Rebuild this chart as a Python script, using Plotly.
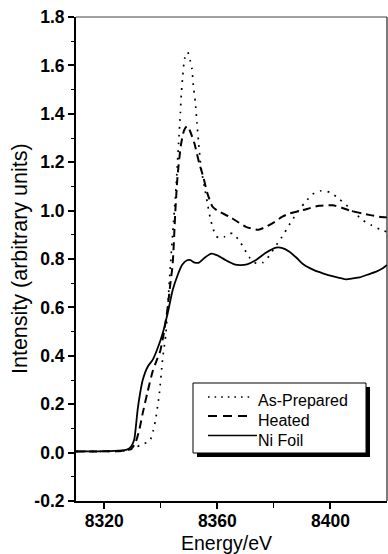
import plotly.graph_objects as go

# ---------------- data ----------------
ni_e = [8310, 8318, 8325, 8328, 8329.5, 8330.6, 8331.2, 8331.8, 8332.6, 8333.6, 8335.4,
        8337.1, 8338.5, 8340.6, 8342.5, 8344.2, 8346.0, 8347.5, 8349.3, 8350.5, 8352,
        8353.5, 8355.5, 8357.8, 8360, 8363, 8366, 8368, 8370.5, 8373.7, 8377, 8380.8,
        8383, 8385.5, 8388, 8390.5, 8394, 8397.3, 8401, 8405.5, 8408, 8410.3, 8413,
        8416.2, 8418.5, 8420]
ni_v = [0.005, 0.005, 0.008, 0.012, 0.025, 0.054, 0.11, 0.177, 0.24, 0.30, 0.356,
        0.383, 0.42, 0.49, 0.58, 0.672, 0.735, 0.775, 0.795, 0.795, 0.785,
        0.785, 0.805, 0.822, 0.815, 0.795, 0.778, 0.775, 0.778, 0.796, 0.825, 0.847,
        0.845, 0.83, 0.805, 0.777, 0.755, 0.741, 0.728, 0.716, 0.72, 0.724, 0.735,
        0.748, 0.762, 0.775]

heated_e = [8310, 8326, 8329.5, 8331, 8332.4, 8333.6, 8335.3, 8337.1, 8338.5, 8339.8,
            8341, 8342.2, 8343.4, 8344.2, 8345.1, 8345.9, 8347.1, 8348.2, 8349.3,
            8350.3, 8351.9, 8353.6, 8355, 8356.5, 8358.3, 8360, 8364.2, 8367, 8370.1,
            8374.5, 8377.5, 8380.5, 8383, 8385.5, 8390.2, 8396, 8400.8, 8404, 8407,
            8412, 8417.3, 8420]
heated_v = [0.005, 0.007, 0.015, 0.04, 0.095, 0.163, 0.25, 0.335, 0.38, 0.42,
            0.49, 0.58, 0.70, 0.78, 0.99, 1.14, 1.27, 1.33, 1.35,
            1.33, 1.277, 1.195, 1.14, 1.07, 1.016, 1.0, 0.975, 0.955, 0.933,
            0.921, 0.935, 0.955, 0.975, 0.988, 1.002, 1.02, 1.022, 1.012, 1.0,
            0.986, 0.975, 0.972]

asprep_e = [8310, 8328, 8331, 8333, 8336, 8337.3, 8338.2, 8339.5, 8340.6, 8341.8,
            8343.2, 8344.2, 8345.4, 8346.3, 8346.9, 8347.3, 8347.8, 8348.4, 8349.5,
            8350.4, 8351, 8351.5, 8352.2, 8352.8, 8353.3, 8354.2, 8355.4, 8356.4,
            8357.5, 8358.3, 8359.5, 8361, 8362.5, 8364, 8365.5, 8367.8, 8369.6,
            8371.3, 8373, 8374.5, 8376, 8377.5, 8379.3, 8381.3, 8383.3, 8385,
            8386.9, 8389, 8391.2, 8393.7, 8396.7, 8399.9, 8402.9, 8405.6, 8408.5,
            8411.4, 8414.4, 8417.6, 8420]
asprep_v = [0.005, 0.008, 0.02, 0.033, 0.047, 0.09, 0.14, 0.246, 0.383, 0.494,
            0.74, 0.906, 1.10, 1.28, 1.40, 1.49, 1.56, 1.628, 1.655,
            1.62, 1.586, 1.517, 1.449, 1.36, 1.29, 1.18, 1.10, 1.036,
            0.968, 0.933, 0.895, 0.885, 0.892, 0.905, 0.905, 0.875, 0.84,
            0.807, 0.787, 0.78, 0.785, 0.80, 0.83, 0.865, 0.899, 0.933,
            0.968, 1.005, 1.036, 1.068, 1.082, 1.075, 1.05, 1.023, 0.991,
            0.961, 0.94, 0.922, 0.912]

x_ticks = [8320, 8360, 8400]
x_ticktext = ["8320", "8360", "8400"]
x_minor = [8340, 8380]
y_ticks = [-0.2, 0.0, 0.2, 0.4, 0.6, 0.8, 1.0, 1.2, 1.4, 1.6, 1.8]
y_ticktext = ["-0.2", "0.0", "0.2", "0.4", "0.6", "0.8", "1.0", "1.2", "1.4", "1.6", "1.8"]
legend_labels = ["As-Prepared", "Heated", "Ni Foil"]

# ---------------- layout geometry ----------------
W, H = 388, 554
L, R, T, B = 76, 387, 17, 501


def px(xp):
    return (xp - L) / (R - L)


def py(yp):
    return (B - yp) / (B - T)


FONT = "Liberation Sans"
XBOLD = dict(family="Arial", size=17.5, color="black", weight=700)
YBOLD = dict(family="Arial", size=17.5, color="black", weight=700)
DOT = "1.8px,6px"
DASH = "8px,5px"

fig = go.Figure()
fig.add_trace(go.Scatter(x=asprep_e, y=asprep_v, mode="lines", name=legend_labels[0],
                         line=dict(color="black", width=1.7, dash=DOT, shape="spline", smoothing=0.6)))
fig.add_trace(go.Scatter(x=heated_e, y=heated_v, mode="lines", name=legend_labels[1],
                         line=dict(color="black", width=2, dash=DASH, shape="spline", smoothing=0.6)))
fig.add_trace(go.Scatter(x=ni_e, y=ni_v, mode="lines", name=legend_labels[2],
                         line=dict(color="black", width=1.8, shape="spline", smoothing=0.6)))

shapes = []
shapes.append(dict(type="line", xref="paper", yref="paper", x0=0, x1=1, y0=1, y1=1,
                   line=dict(color="#444", width=1)))
shapes.append(dict(type="line", xref="paper", yref="paper", x0=1, x1=1, y0=0, y1=1,
                   line=dict(color="#222", width=1.2)))
shapes.append(dict(type="rect", xref="paper", yref="paper", x0=px(197), x1=px(370),
                   y0=py(457), y1=py(387), fillcolor="black", line=dict(width=0)))
shapes.append(dict(type="rect", xref="paper", yref="paper", x0=px(193), x1=px(366),
                   y0=py(453), y1=py(383), fillcolor="white", line=dict(color="black", width=1)))
samples = [(252, 397, dict(color="black", width=1.6, dash="1.6px,5px")),
           (248, 416, dict(color="black", width=2, dash="9px,6px")),
           (257, 435.5, dict(color="black", width=1.5))]
for x1, yy, ln in samples:
    shapes.append(dict(type="line", xref="paper", yref="paper", x0=px(208), x1=px(x1),
                       y0=py(yy), y1=py(yy), line=ln))

annotations = []
for lab, yy in zip(legend_labels, [400, 420, 440]):
    annotations.append(dict(text=lab, xref="paper", yref="paper", x=px(256), y=py(yy),
                            xanchor="left", yanchor="middle", showarrow=False,
                            font=dict(family=FONT, size=16, color="black")))
annotations.append(dict(text="Energy/eV", xref="paper", yref="paper", x=px(226.5), y=py(542.5),
                        xanchor="center", yanchor="middle", showarrow=False,
                        font=dict(family=FONT, size=19.5, color="black")))
annotations.append(dict(text="Intensity (arbitrary units)", xref="paper", yref="paper",
                        x=px(20), y=py(259), xanchor="center", yanchor="middle",
                        textangle=-90, showarrow=False,
                        font=dict(family=FONT, size=21.5, color="black")))

fig.update_layout(
    width=W, height=H,
    margin=dict(l=L, r=W - R, t=T, b=H - B, pad=0),
    paper_bgcolor="white", plot_bgcolor="white",
    showlegend=False,
    shapes=shapes, annotations=annotations,
    xaxis=dict(range=[8310, 8420], tickvals=x_ticks,
               ticktext=["<b>%s</b>" % t for t in x_ticktext], ticks="outside", ticklen=6,
               tickwidth=1.5, tickcolor="black", showline=True, linecolor="black",
               linewidth=2, showgrid=False, zeroline=False, ticklabelstandoff=-3,
               tickfont=XBOLD,
               minor=dict(tickvals=x_minor, ticks="outside", ticklen=5, tickwidth=1.2,
                          tickcolor="black", showgrid=False)),
    yaxis=dict(range=[-0.2, 1.8], tickvals=y_ticks,
               ticktext=["<b>%s</b>" % t for t in y_ticktext], ticks="outside",
               ticklen=6, tickwidth=1.5, tickcolor="black", showline=True, linecolor="black",
               linewidth=2, showgrid=False, zeroline=False,
               tickfont=YBOLD,
               minor=dict(dtick=0.1, tick0=0, ticks="outside", ticklen=3, tickwidth=1.2,
                          tickcolor="black", showgrid=False)),
)

fig.write_html("out.html")
